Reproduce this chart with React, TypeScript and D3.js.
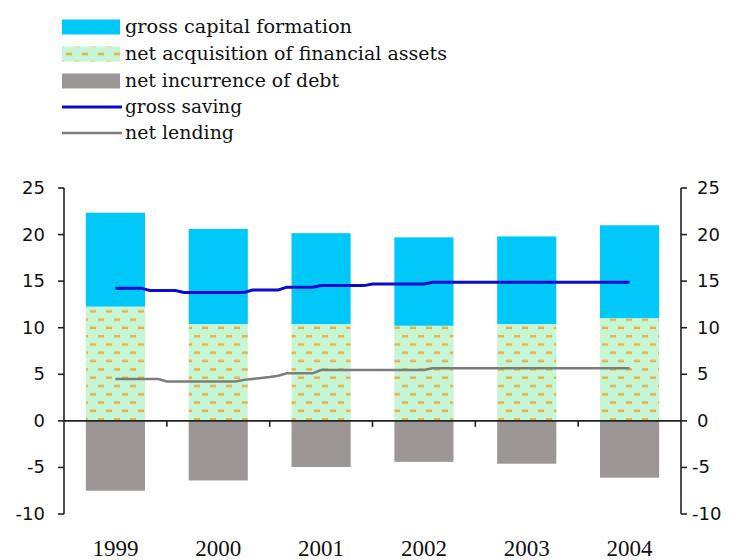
import React from "react";
import * as d3 from "d3";

const years = ["1999", "2000", "2001", "2002", "2003", "2004"];
const finAssets = [12.25, 10.4, 10.4, 10.2, 10.4, 11.0];
const grossCapital = [10.1, 10.2, 9.75, 9.5, 9.4, 10.0];
const netDebt = [-7.5, -6.4, -4.95, -4.4, -4.6, -6.1];

// monthly observations from mid-1999 to mid-2004
const grossSaving = [
  14.25, 14.25, 14.25, 14.25,
  14.0, 14.0, 14.0, 14.0,
  13.78, 13.78, 13.78, 13.78, 13.78, 13.78, 13.78, 13.78,
  14.05, 14.05, 14.05, 14.05,
  14.35, 14.35, 14.35, 14.35,
  14.52, 14.52, 14.52, 14.52, 14.52, 14.52,
  14.7, 14.7, 14.7, 14.7, 14.7, 14.7, 14.7,
  14.88, 14.88, 14.88, 14.88, 14.88, 14.88, 14.88, 14.88, 14.88, 14.88, 14.88, 14.88,
  14.88, 14.88, 14.88, 14.88, 14.88, 14.88, 14.88, 14.88, 14.88, 14.88, 14.88, 14.88,
];
const netLending = [
  4.5, 4.5, 4.5, 4.5, 4.5, 4.5,
  4.22, 4.22, 4.22, 4.22, 4.22, 4.22, 4.22, 4.22, 4.22,
  4.4, 4.5, 4.6, 4.7, 4.85,
  5.1, 5.1, 5.1, 5.1,
  5.45, 5.45, 5.45, 5.45, 5.45, 5.45, 5.45, 5.45, 5.45, 5.45, 5.45, 5.45, 5.45,
  5.65, 5.65, 5.65, 5.65, 5.65, 5.65, 5.65, 5.65, 5.65, 5.65, 5.65, 5.65,
  5.65, 5.65, 5.65, 5.65, 5.65, 5.65, 5.65, 5.65, 5.65, 5.65, 5.65, 5.65,
];
const yTicks = [-10, -5, 0, 5, 10, 15, 20, 25];
const legendItems = [
  "gross capital formation",
  "net acquisition of financial assets",
  "net incurrence of debt",
  "gross saving",
  "net lending",
];
const legendWidths = [227, 322, 214, 117, 109];

const W = 732;
const H = 560;
const LEFT = 64;
const RIGHT = 681;

export default function App() {
  const y = d3.scaleLinear().domain([-10, 25]).range([514, 188]);
  const x = d3.scaleBand<string>().domain(years).range([LEFT, RIGHT]).padding(0);
  const step = x.bandwidth();
  const barW = step * 0.575;
  const barX = (c: string) => (x(c) as number) + (step - barW) / 2;
  const x0 = (x(years[0]) as number) + step / 2;
  const line = d3
    .line<number>()
    .x((_, i) => x0 + (i * step) / 12)
    .y((d) => y(d));

  const cyan = "#00c8f8";
  const grey = "#9c9696";
  const axisCol = "#222";
  const numFont = "'DejaVu Sans', Verdana, sans-serif";
  const serif = "'DejaVu Serif', 'Liberation Serif', serif";
  const yearFont = "'Liberation Serif', 'Times New Roman', serif";

  const legendRows = [27, 54, 81, 107, 133];

  return (
    <svg
      width={W}
      height={H}
      style={{ position: "absolute", left: 0, top: 0, background: "#fff" }}
    >
      <defs>
        <pattern id="finPat" patternUnits="userSpaceOnUse" width={16} height={16.6}>
          <rect width={16} height={16.6} fill="#c6f6d4" />
          <rect x={2} y={3} width={6} height={2.4} fill="#eab044" />
          <rect x={10} y={11.3} width={6} height={2.4} fill="#eab044" />
        </pattern>
      </defs>

      {/* bars */}
      {years.map((c, i) => (
        <g key={c}>
          <rect
            x={barX(c)}
            y={y(finAssets[i] + grossCapital[i])}
            width={barW}
            height={y(finAssets[i]) - y(finAssets[i] + grossCapital[i])}
            fill={cyan}
          />
          <rect
            x={barX(c)}
            y={y(finAssets[i])}
            width={barW}
            height={y(0) - y(finAssets[i])}
            fill="url(#finPat)"
          />
          <rect
            x={barX(c)}
            y={y(0)}
            width={barW}
            height={y(netDebt[i]) - y(0)}
            fill={grey}
          />
        </g>
      ))}

      {/* lines */}
      <path d={line(grossSaving) || ""} fill="none" stroke="#0a0ad0" strokeWidth={3} />
      <path d={line(netLending) || ""} fill="none" stroke="#7c7c7c" strokeWidth={2.5} />

      {/* x axis at zero */}
      <line x1={LEFT} x2={RIGHT} y1={y(0)} y2={y(0)} stroke={axisCol} strokeWidth={1.6} />
      {years.slice(1).map((c) => (
        <line
          key={"xt" + c}
          x1={x(c) as number}
          x2={x(c) as number}
          y1={y(0)}
          y2={y(0) + 6}
          stroke={axisCol}
          strokeWidth={1.6}
        />
      ))}
      {years.map((c) => (
        <text
          key={"xl" + c}
          x={(x(c) as number) + step / 2}
          y={556}
          textAnchor="middle"
          style={{ fontFamily: yearFont, fontSize: 23 }}
          fill="#111"
        >
          {c}
        </text>
      ))}

      {/* left axis */}
      <line x1={LEFT} x2={LEFT} y1={y(25)} y2={y(-10)} stroke={axisCol} strokeWidth={1.6} />
      {yTicks.map((t) => (
        <g key={"yl" + t}>
          <line x1={LEFT - 6} x2={LEFT} y1={y(t)} y2={y(t)} stroke={axisCol} strokeWidth={1.6} />
          <text
            x={45}
            y={y(t) + 6}
            textAnchor="end"
            style={{ fontFamily: numFont, fontSize: 18 }}
            fill="#111"
          >
            {t}
          </text>
        </g>
      ))}

      {/* right axis */}
      <line x1={RIGHT} x2={RIGHT} y1={y(25)} y2={y(-10)} stroke={axisCol} strokeWidth={1.6} />
      {yTicks.map((t) => (
        <g key={"yr" + t}>
          <line x1={RIGHT} x2={RIGHT + 6} y1={y(t)} y2={y(t)} stroke={axisCol} strokeWidth={1.6} />
          <text
            x={t < 0 ? 692 : 697}
            y={y(t) + 6}
            textAnchor="start"
            style={{ fontFamily: numFont, fontSize: 18 }}
            fill="#111"
          >
            {t}
          </text>
        </g>
      ))}

      {/* legend */}
      <rect x={62} y={legendRows[0] - 7.5} width={58} height={15} fill={cyan} />
      <rect x={62} y={legendRows[1] - 7.5} width={58} height={15} fill="url(#finPat)" />
      <rect x={62} y={legendRows[2] - 7.5} width={58} height={15} fill={grey} />
      <line x1={62} x2={122} y1={legendRows[3]} y2={legendRows[3]} stroke="#0a0ad0" strokeWidth={3} />
      <line x1={62} x2={122} y1={legendRows[4]} y2={legendRows[4]} stroke="#7c7c7c" strokeWidth={2.5} />
      {legendItems.map((t, i) => (
        <text
          key={t}
          x={125}
          y={legendRows[i] + 6}
          textLength={legendWidths[i]}
          lengthAdjust="spacingAndGlyphs"
          style={{ fontFamily: serif, fontSize: 18 }}
          fill="#111"
        >
          {t}
        </text>
      ))}
    </svg>
  );
}
